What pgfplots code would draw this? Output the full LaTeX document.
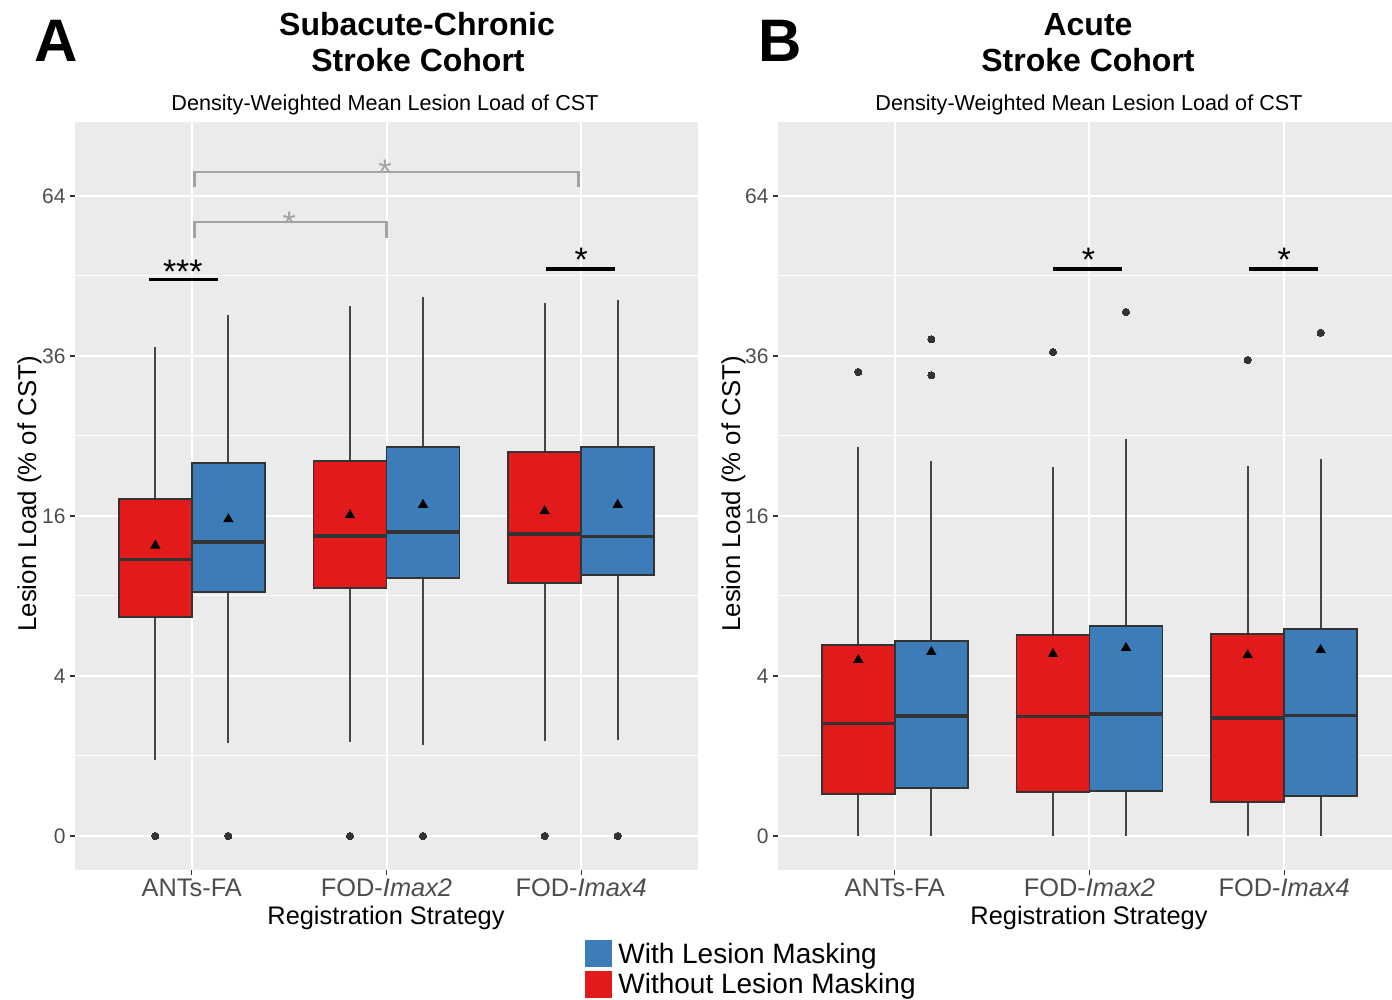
\documentclass[border=0pt]{standalone}
\usepackage{fontspec}
\setmainfont{Liberation Sans}
\usepackage{pgfplots}
\pgfplotsset{compat=1.18}
\usepgfplotslibrary{statistics}
\definecolor{panelbg}{HTML}{EBEBEB}
\definecolor{setred}{HTML}{E31A1C}
\definecolor{setblue}{HTML}{3B7CB9}
\definecolor{boxedge}{HTML}{333333}
\definecolor{whiskcol}{HTML}{454545}
\definecolor{ticktext}{HTML}{4D4D4D}
\definecolor{sigray}{HTML}{A3A3A3}
% Values are given on the chart's square-root scale: ticks 0,2,4,6,8 = 0,4,16,36,64 %
\pgfplotsset{
  panel/.style={
    scale only axis, height=374pt,
    ymin=-0.425, ymax=8.925, xmin=0.4,
    axis background/.style={fill=panelbg, draw=none},
    axis line style={draw=none},
    xtick={1,2,3},
    xticklabels={ANTs-FA, FOD-\textit{Imax2}, FOD-\textit{Imax4}},
    ytick={0,2,4,6,8}, yticklabels={0,4,16,36,64},
    minor ytick={1,3,5,7},
    grid=both,
    major grid style={white, line width=1pt},
    minor grid style={white, line width=0.5pt},
    tick pos=left, tick align=outside,
    major tick length=2.5pt, minor tick length=0pt,
    tick style={color=boxedge, line width=0.55pt},
    xticklabel style={font=\fontsize{12.7}{14}\selectfont, text=ticktext, yshift=1.5pt},
    yticklabel style={font=\fontsize{10.5}{12}\selectfont, text=ticktext, inner sep=2pt},
    boxplot/draw direction=y,
    boxplot/whisker extend=0,
    boxplot/every box/.style={draw=boxedge, line width=0.75pt},
    boxplot/every whisker/.style={draw=whiskcol, line width=1.05pt},
    boxplot/every median/.style={draw=boxedge, line width=1.6pt},
  },
  redbox/.style={fill=setred, draw=boxedge, mark=*, mark size=1.8pt,
    mark options={draw=boxedge, fill=boxedge, line width=0pt}},
  bluebox/.style={fill=setblue, draw=boxedge, mark=*, mark size=1.8pt,
    mark options={draw=boxedge, fill=boxedge, line width=0pt}},
  meanmark/.style={only marks, mark=triangle*, mark size=2.6pt, color=black},
  bp/.style n args={6}{boxplot prepared={draw position=#1, box extend=0.375,
    lower whisker=#2, lower quartile=#3, median=#4, upper quartile=#5, upper whisker=#6}},
}
\begin{document}
\begin{tikzpicture}
\useasboundingbox (0,0) rectangle (696pt,500pt);
% ---------------- Panel A ----------------
\begin{axis}[panel, width=311.5pt, xmax=3.6, at={(37.5pt,65pt)}, anchor=south west]
\addplot[redbox, bp={0.8125}{0.95}{2.74}{3.46}{4.21}{6.11}] coordinates {(0,0)};
\addplot[bluebox, bp={1.1875}{1.16}{3.05}{3.675}{4.66}{6.51}] coordinates {(0,0)};
\addplot[redbox, bp={1.8125}{1.175}{3.10}{3.75}{4.69}{6.625}] coordinates {(0,0)};
\addplot[bluebox, bp={2.1875}{1.14}{3.225}{3.80}{4.86}{6.74}] coordinates {(0,0)};
\addplot[redbox, bp={2.8125}{1.19}{3.16}{3.775}{4.80}{6.66}] coordinates {(0,0)};
\addplot[bluebox, bp={3.1875}{1.20}{3.26}{3.74}{4.86}{6.70}] coordinates {(0,0)};
\addplot[meanmark] coordinates {(0.8125,3.63) (1.1875,3.96) (1.8125,4.01) (2.1875,4.14) (2.8125,4.06) (3.1875,4.14)};
% significance annotations
\draw[black, line width=1.6pt] (axis cs:0.78,6.96) -- (axis cs:1.135,6.96);
\node[anchor=base, font=\fontsize{17}{17}\selectfont, inner sep=0pt] at (axis cs:0.954,6.90) {***};
\draw[sigray, line width=1.3pt] (axis cs:1.015,7.475) -- (axis cs:1.015,7.675) -- (axis cs:2.0,7.675) -- (axis cs:2.0,7.475);
\node[anchor=base, text=sigray, font=\fontsize{17}{17}\selectfont, inner sep=0pt] at (axis cs:1.5,7.51) {*};
\draw[sigray, line width=1.3pt] (axis cs:1.015,8.11) -- (axis cs:1.015,8.30) -- (axis cs:2.985,8.30) -- (axis cs:2.985,8.11);
\node[anchor=base, text=sigray, font=\fontsize{17}{17}\selectfont, inner sep=0pt] at (axis cs:1.992,8.16) {*};
\draw[black, line width=1.6pt] (axis cs:2.82,7.0875) -- (axis cs:3.175,7.0875);
\node[anchor=base, font=\fontsize{17}{17}\selectfont, inner sep=0pt] at (axis cs:3.0,7.05) {*};
\end{axis}
% ---------------- Panel B ----------------
\begin{axis}[panel, width=307pt, xmax=3.554, at={(389pt,65pt)}, anchor=south west]
\addplot[redbox, bp={0.8125}{0}{0.525}{1.41}{2.39}{4.86}] coordinates {(0,5.80)};
\addplot[bluebox, bp={1.1875}{0}{0.60}{1.50}{2.44}{4.69}] coordinates {(0,6.21) (0,5.76)};
\addplot[redbox, bp={1.8125}{0}{0.55}{1.49}{2.51}{4.61}] coordinates {(0,6.05)};
\addplot[bluebox, bp={2.1875}{0}{0.5625}{1.525}{2.625}{4.96}] coordinates {(0,6.55)};
\addplot[redbox, bp={2.8125}{0}{0.425}{1.475}{2.525}{4.625}] coordinates {(0,5.95)};
\addplot[bluebox, bp={3.1875}{0}{0.50}{1.51}{2.59}{4.71}] coordinates {(0,6.29)};
\addplot[meanmark] coordinates {(0.8125,2.20) (1.1875,2.30) (1.8125,2.275) (2.1875,2.35) (2.8125,2.26) (3.1875,2.325)};
\draw[black, line width=1.6pt] (axis cs:1.815,7.0875) -- (axis cs:2.169,7.0875);
\node[anchor=base, font=\fontsize{17}{17}\selectfont, inner sep=0pt] at (axis cs:1.995,7.05) {*};
\draw[black, line width=1.6pt] (axis cs:2.82,7.0875) -- (axis cs:3.174,7.0875);
\node[anchor=base, font=\fontsize{17}{17}\selectfont, inner sep=0pt] at (axis cs:3.0,7.05) {*};
\end{axis}
% ---------------- Titles and labels ----------------
\node[anchor=base, font=\bfseries\fontsize{30}{30}\selectfont, inner sep=0pt] at (28pt,469pt) {A};
\node[anchor=base, font=\bfseries\fontsize{30}{30}\selectfont, inner sep=0pt] at (390pt,469pt) {B};
\node[anchor=base, font=\bfseries\fontsize{16}{18}\selectfont, inner sep=0pt] at (208.5pt,482pt) {Subacute-Chronic};
\node[anchor=base, font=\bfseries\fontsize{16}{18}\selectfont, inner sep=0pt] at (209pt,464pt) {Stroke Cohort};
\node[anchor=base, font=\bfseries\fontsize{16}{18}\selectfont, inner sep=0pt] at (544pt,482pt) {Acute};
\node[anchor=base, font=\bfseries\fontsize{16}{18}\selectfont, inner sep=0pt] at (544pt,464pt) {Stroke Cohort};
\node[anchor=base, font=\fontsize{10.8}{13}\selectfont, inner sep=0pt] at (192.5pt,444.5pt) {Density-Weighted Mean Lesion Load of CST};
\node[anchor=base, font=\fontsize{10.8}{13}\selectfont, inner sep=0pt] at (544.5pt,444.5pt) {Density-Weighted Mean Lesion Load of CST};
\node[anchor=base, font=\fontsize{12.7}{14}\selectfont, inner sep=0pt] at (193pt,37.5pt) {Registration Strategy};
\node[anchor=base, font=\fontsize{12.7}{14}\selectfont, inner sep=0pt] at (544.5pt,37.5pt) {Registration Strategy};
\node[anchor=base, rotate=90, font=\fontsize{12.9}{14}\selectfont, inner sep=0pt] at (18pt,253pt) {Lesion Load (\% of CST)};
\node[anchor=base, rotate=90, font=\fontsize{12.9}{14}\selectfont, inner sep=0pt] at (370pt,253pt) {Lesion Load (\% of CST)};
% legend
\fill[setblue] (292.5pt,16.5pt) rectangle (306pt,30pt);
\fill[setred] (292.5pt,1pt) rectangle (306pt,14.5pt);
\node[anchor=base west, font=\fontsize{14}{16}\selectfont, inner sep=0pt] at (309pt,18pt) {With Lesion Masking};
\node[anchor=base west, font=\fontsize{14}{16}\selectfont, inner sep=0pt] at (309pt,3pt) {Without Lesion Masking};
\end{tikzpicture}
\end{document}
